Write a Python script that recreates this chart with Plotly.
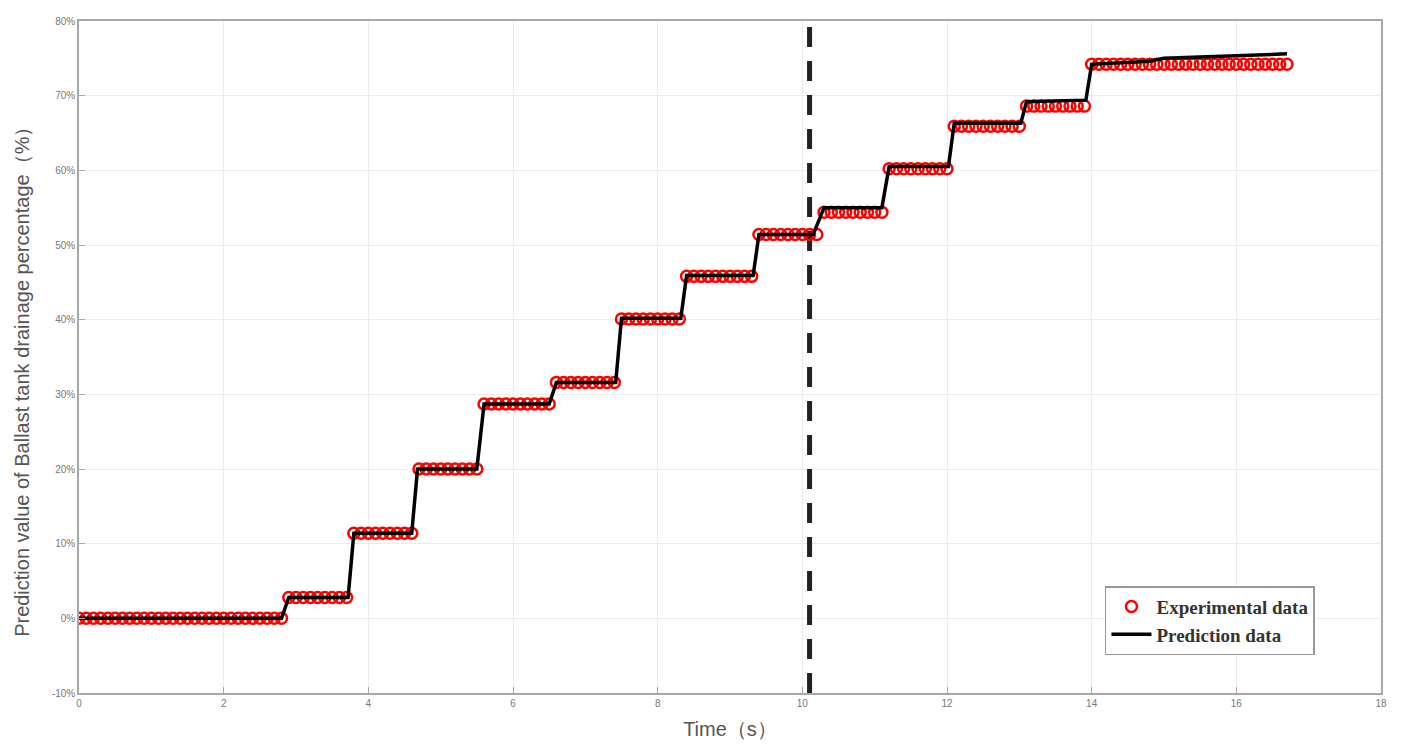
import numpy as np
import plotly.graph_objects as go

# experimental data: sampled every 0.1 s, stored as step levels + samples per level
exp_dt = 0.1
exp_levels = [0.0, 2.8, 11.4, 20.0, 28.7, 31.6, 40.1, 45.8, 51.4, 54.4, 60.2, 65.9, 68.6, 74.2]
exp_counts = [29, 9, 9, 9, 10, 9, 9, 10, 9, 9, 9, 10, 9, 28]

# prediction line vertices (time s, percent)
pred_t = [0.0, 2.8, 2.9, 3.72, 3.8, 4.6, 4.68, 5.5, 5.6, 6.5, 6.6, 7.42, 7.5, 8.32, 8.4,
          9.32, 9.4, 10.15, 10.3, 11.1, 11.2, 12.02, 12.1, 13.02, 13.1, 13.92, 14.0,
          14.8, 15.0, 16.7]
pred_v = [0.0, 0.0, 2.8, 2.8, 11.4, 11.4, 20.0, 20.0, 28.7, 28.7, 31.6, 31.6, 40.2, 40.2, 45.9,
          45.9, 51.4, 51.4, 55.0, 55.0, 60.5, 60.5, 66.3, 66.3, 69.2, 69.4, 74.2,
          74.6, 75.0, 75.6]

# vertical dashed marker line
split_t = 10.1

x_ticks = [0, 2, 4, 6, 8, 10, 12, 14, 16, 18]
y_ticks = [-10, 0, 10, 20, 30, 40, 50, 60, 70, 80]

exp_v = np.repeat(exp_levels, exp_counts)
exp_t = np.round(np.arange(len(exp_v)) * exp_dt, 2)

fig = go.Figure()

fig.add_trace(go.Scatter(
    x=[split_t, split_t], y=[-10, 80], mode="lines",
    line=dict(color="#222222", width=5, dash="20px,14px"),
    showlegend=False, hoverinfo="skip"))

fig.add_trace(go.Scatter(
    x=exp_t, y=exp_v, mode="markers", name="<b>Experimental data</b>",
    marker=dict(symbol="circle-open", color="#ff0000", size=11, line=dict(width=2.5, color="#ff0000"))))

fig.add_trace(go.Scatter(
    x=pred_t, y=pred_v, mode="lines", name="<b>Prediction data</b>",
    line=dict(color="#000000", width=3.5)))

axis_common = dict(
    showline=True, linecolor="#a8a8a8", linewidth=1.5, mirror=True,
    showgrid=True, gridcolor="#ececec", gridwidth=1,
    ticks="inside", tickcolor="#a8a8a8", ticklen=6,
    tickfont=dict(family="Liberation Sans", size=10, color="#777777"),
    zeroline=False,
)

fig.update_xaxes(range=[0, 18], tickvals=x_ticks,
                 title=dict(text="Time（s）", font=dict(family="Liberation Sans", size=20, color="#555555"), standoff=14),
                 **axis_common)
fig.update_yaxes(range=[-10, 80], tickvals=y_ticks, ticktext=[f"{v}%" for v in y_ticks],
                 **axis_common)

# y title placed as annotation (sits a little below the plot centre in the original)
fig.add_annotation(
    text="Prediction value of Ballast tank drainage percentage（%）",
    xref="paper", yref="paper", x=-0.044, y=0.47, textangle=-90,
    xanchor="center", yanchor="middle", showarrow=False,
    font=dict(family="Liberation Sans", size=20, color="#555555"))

fig.update_layout(
    width=1393, height=743,
    margin=dict(l=71, r=20, t=7, b=58),
    paper_bgcolor="white", plot_bgcolor="white",
    legend=dict(x=0.788, y=0.159, xanchor="left", yanchor="top",
                bgcolor="white", bordercolor="#999999", borderwidth=1.5,
                font=dict(family="Liberation Serif", size=19, color="#333333"),
                tracegroupgap=0, itemwidth=40),
)

fig.write_html("out.html")
